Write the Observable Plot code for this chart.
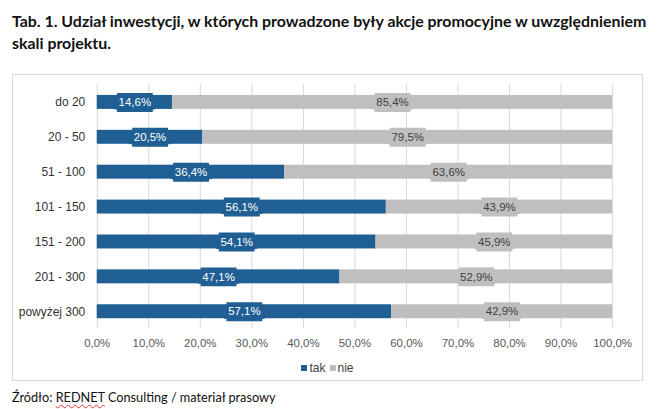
<!DOCTYPE html>
<html>
<head>
<meta charset="utf-8">
<script src="https://cdn.jsdelivr.net/npm/d3@7"></script>
<script src="https://cdn.jsdelivr.net/npm/@observablehq/plot@0.6"></script>
<style>
  html, body { margin: 0; padding: 0; background: #fff; }
  body { width: 658px; height: 409px; position: relative; overflow: hidden; }
  #title { position: absolute; left: 12px; top: 10px; width: 645px; font-family: Lato, sans-serif; font-weight: bold; font-size: 15.9px; line-height: 22px; color: #111; }
  #box { position: absolute; left: 12px; top: 74px; width: 631px; height: 307px; border: 1px solid #d9d9d9; box-sizing: border-box; }
  #chart { position: absolute; left: 0; top: 0; }
  #legend { position: absolute; top: 286px; left: 0; width: 100%; text-align: center; font-family: "Liberation Sans", Arial, sans-serif; font-size: 12px; color: #404040; }
  #legend span.item { display: inline-block; margin: 0 2px; }
  #legend span.sw { display: inline-block; width: 6px; height: 6px; margin-right: 2px; vertical-align: 1px; }
  #caption { position: absolute; left: 12px; top: 389px; font-family: Lato, sans-serif; font-size: 12.7px; color: #111; }
  #caption .err { text-decoration: underline wavy #e03030; text-decoration-thickness: 1px; text-underline-offset: 2px; }
</style>
</head>
<body>
<div id="title">Tab. 1. Udział inwestycji, w których prowadzone były akcje promocyjne w uwzględnieniem skali projektu.</div>
<div id="box">
  <div id="chart"></div>
  <div id="legend"></div>
</div>
<div id="caption">Źródło: <span class="err">REDNET</span> Consulting / materiał prasowy</div>
<script>
const categories = ["do 20", "20 - 50", "51 - 100", "101 - 150", "151 - 200", "201 - 300", "powyżej 300"];
const tak = [14.6, 20.5, 36.4, 56.1, 54.1, 47.1, 57.1];
const nie = [85.4, 79.5, 63.6, 43.9, 45.9, 52.9, 42.9];
const seriesNames = ["tak", "nie"];
const seriesColors = ["#1f5f94", "#bfbfbf"];
const labelColors = ["#ffffff", "#404040"];
const xTicks = [0, 10, 20, 30, 40, 50, 60, 70, 80, 90, 100];

const fmt = v => v.toFixed(1).replace(".", ",") + "%";

// rows with start/end from the value arrays
const rows = [];
categories.forEach((c, i) => {
  rows.push({cat: c, series: "tak", value: tak[i], start: 0, end: tak[i]});
  rows.push({cat: c, series: "nie", value: nie[i], start: tak[i], end: tak[i] + nie[i]});
});
const takRows = rows.filter(d => d.series === "tak");
const nieRows = rows.filter(d => d.series === "nie");

// label callout box symbol (fixed pixel size)
const labelBox = {
  draw(ctx) {
    const w = 20.5, h = 9.5, c = 2.5, hb = 7;
    ctx.moveTo(-w + c, -h);
    ctx.lineTo(w - c, -h);
    ctx.lineTo(w - c, -hb);
    ctx.lineTo(w, -hb);
    ctx.lineTo(w, hb);
    ctx.lineTo(w - c, hb);
    ctx.lineTo(w - c, h);
    ctx.lineTo(-w + c, h);
    ctx.lineTo(-w + c, hb);
    ctx.lineTo(-w, hb);
    ctx.lineTo(-w, -hb);
    ctx.lineTo(-w + c, -hb);
    ctx.closePath();
  }
};

const mid = d => (d.start + d.end) / 2;

const plot = Plot.plot({
  width: 631,
  height: 280,
  marginLeft: 84,
  marginRight: 30,
  marginTop: 9,
  marginBottom: 26,
  style: {fontFamily: "'Liberation Sans', Arial, sans-serif", fontSize: "11px", color: "#595959", background: "transparent"},
  x: {domain: [0, 100], ticks: xTicks, tickFormat: fmt, label: null, grid: false},
  y: {domain: categories, label: null, paddingInner: 0.6, paddingOuter: 0.3},
  color: {domain: seriesNames, range: seriesColors},
  marks: [
    Plot.ruleX(xTicks, {stroke: "#d9d9d9", strokeWidth: 1}),
    Plot.barX(rows, {y: "cat", x1: "start", x2: "end", fill: "series", insetTop: 0, insetBottom: 0}),
    Plot.dot(takRows, {y: "cat", x: mid, symbol: labelBox, fill: seriesColors[0], stroke: null}),
    Plot.dot(nieRows, {y: "cat", x: mid, symbol: labelBox, fill: seriesColors[1], stroke: null}),
    Plot.text(takRows, {y: "cat", x: mid, text: d => fmt(d.value), fill: labelColors[0], fontSize: 11.5}),
    Plot.text(nieRows, {y: "cat", x: mid, text: d => fmt(d.value), fill: labelColors[1], fontSize: 11.5}),
    Plot.axisX({ticks: xTicks, tickFormat: fmt, tickSize: 0, tickPadding: 10, fontSize: 11.5, fill: "#595959"}),
    Plot.axisY({tickSize: 0, tickPadding: 12, fontSize: 12, fill: "#333333"})
  ]
});
document.getElementById("chart").appendChild(plot);

const legend = document.getElementById("legend");
seriesNames.forEach((s, i) => {
  const item = document.createElement("span");
  item.className = "item";
  const sw = document.createElement("span");
  sw.className = "sw";
  sw.style.background = seriesColors[i];
  item.appendChild(sw);
  item.appendChild(document.createTextNode(s));
  legend.appendChild(item);
});
</script>
</body>
</html>
